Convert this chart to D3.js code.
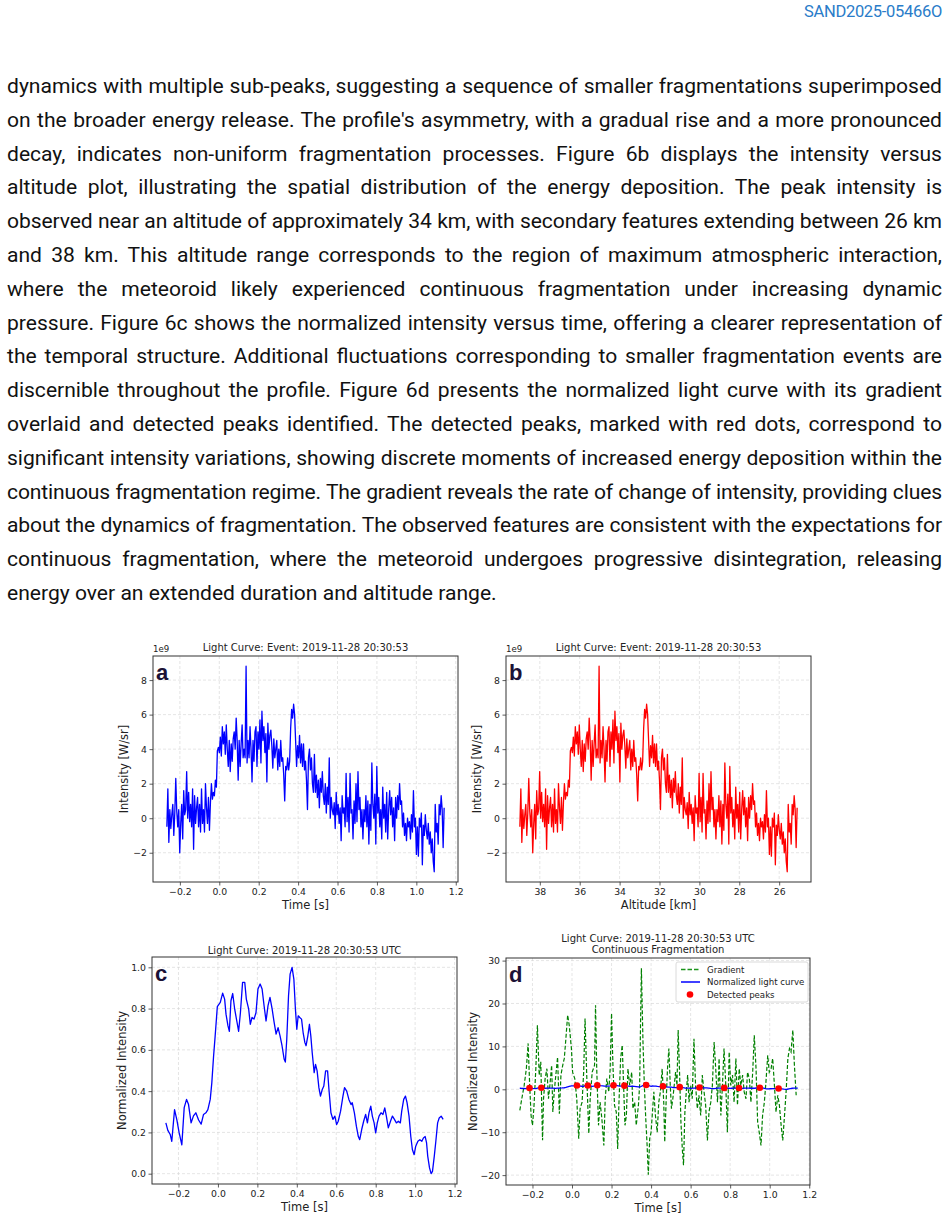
<!DOCTYPE html>
<meta charset="utf-8">
<head>
<style>
  body { margin: 0; background: #fff; }
  #page { position: relative; width: 948px; height: 1220px; overflow: hidden; background: #fff; }
  .docid { position: absolute; right: 6px; top: 2px; font: 16.5px Roboto, sans-serif; color: #2a7cc9; letter-spacing: -0.3px; }
  #para { position: absolute; left: 7px; top: 69px; width: 935px; font-family: Roboto, sans-serif; color: #111; }
  .ln { height: 33.8px; line-height: 33.8px; text-align: justify; }
  #fig { position: absolute; left: 0; top: 0; }
  .tick text { font-family: "DejaVu Sans", sans-serif; font-size: 9.3px; fill: #222; }
  .tick line { stroke: #333; stroke-width: 0.8; }
  .grid { stroke: #d4d4d4; stroke-width: 0.6; stroke-dasharray: 3,2; }
  .lbl { font-family: "DejaVu Sans", sans-serif; font-size: 11.5px; fill: #222; }
  .ttl { font-family: "DejaVu Sans", sans-serif; font-size: 10px; fill: #222; }
  .small { font-family: "DejaVu Sans", sans-serif; font-size: 8.6px; fill: #222; }
  .tag { font-family: "Liberation Sans", Arial, sans-serif; font-weight: bold; font-size: 22px; fill: #1c1236; }
</style>
</head>
<body>
<div id="page">
  <div class="docid">SAND2025-05466O</div>
  <div id="para"></div>
  <svg id="fig"></svg>
</div>
<script src="https://cdnjs.cloudflare.com/ajax/libs/d3/7.8.5/d3.min.js"></script>
<script>

// ---- text of the page, one entry per printed line ----
var paraLines = [
  "dynamics with multiple sub-peaks, suggesting a sequence of smaller fragmentations superimposed",
  "on the broader energy release. The profile's asymmetry, with a gradual rise and a more pronounced",
  "decay, indicates non-uniform fragmentation processes. Figure 6b displays the intensity versus",
  "altitude plot, illustrating the spatial distribution of the energy deposition. The peak intensity is",
  "observed near an altitude of approximately 34 km, with secondary features extending between 26 km",
  "and 38 km. This altitude range corresponds to the region of maximum atmospheric interaction,",
  "where the meteoroid likely experienced continuous fragmentation under increasing dynamic",
  "pressure. Figure 6c shows the normalized intensity versus time, offering a clearer representation of",
  "the temporal structure. Additional fluctuations corresponding to smaller fragmentation events are",
  "discernible throughout the profile. Figure 6d presents the normalized light curve with its gradient",
  "overlaid and detected peaks identified. The detected peaks, marked with red dots, correspond to",
  "significant intensity variations, showing discrete moments of increased energy deposition within the",
  "continuous fragmentation regime. The gradient reveals the rate of change of intensity, providing clues",
  "about the dynamics of fragmentation. The observed features are consistent with the expectations for",
  "continuous fragmentation, where the meteoroid undergoes progressive disintegration, releasing",
  "energy over an extended duration and altitude range."
];

// ---- raw light curve (1e9 W/sr), evenly sampled between these times ----
var sampleTimeRange = [-0.266, 1.141];
var intensity = [
  -0.5, 1.7, -1.4, 0.5, -0.6, 0.2, 0.8, -1.0, 0.3, 2.3, 0.4, -0.5, 0.5, -2.0, -0.3, 0.8, -1.2, 1.6, 0.2, 0.5,
  2.7, 0.0, 1.5, -0.2, 0.8, -0.5, 1.7, -1.8, 1.3, -0.3, 0.6, 1.2, -0.5, 0.8, -0.8, 1.7, -0.3, 0.5, -0.8, 2.0,
  0.6, -0.3, 1.2, -0.7, 0.9, 2.0, 1.1, 1.5, 1.3, 2.2, 1.8, 3.9, 4.1, 3.8, 4.7, 3.6, 5.3, 4.3, 5.0, 3.7,
  5.4, 4.0, 3.0, 4.5, 2.7, 4.3, 3.3, 4.6, 5.0, 4.0, 5.8, 4.5, 2.2, 4.5, 3.0, 4.3, 5.4, 3.5, 4.0, 3.5,
  8.8, 3.2, 4.5, 3.5, 5.3, 4.0, 2.1, 4.5, 3.3, 5.0, 5.3, 3.0, 5.0, 4.0, 5.7, 3.2, 6.2, 4.5, 5.3, 3.8,
  4.9, 2.1, 5.5, 4.0, 4.8, 5.1, 4.2, 2.9, 4.6, 3.5, 4.0, 4.5, 2.8, 4.0, 3.0, 4.5, 3.3, 3.5, 2.5, 1.0,
  3.0, 2.8, 3.5, 2.8, 3.3, 5.2, 6.3, 5.8, 6.6, 6.0, 4.5, 3.0, 4.2, 3.5, 4.8, 3.2, 4.3, 3.0, 4.3, 2.8,
  3.3, 2.2, 0.5, 3.5, 4.0, 2.8, 3.5, 2.0, 1.5, 3.7, 1.5, 2.5, 1.2, 2.2, 0.6, 2.3, 1.5, 2.7, 1.3, 0.8,
  2.0, 0.3, 1.8, 0.8, 3.5, 0.0, 1.2, 0.5, 0.2, 0.9, -0.6, 1.5, 0.2, 0.8, -0.3, 0.6, -1.3, 1.3, 0.3, 0.6,
  -0.5, 2.6, -0.2, 1.2, -0.8, 2.6, 0.3, 0.5, -1.2, 1.0, -0.3, 2.0, -0.2, 2.7, 0.5, 1.2, -0.5, 0.5, -1.2, 0.5,
  -0.2, 1.3, -0.5, 1.0, -1.5, 0.8, -0.7, 3.2, 0.8, 0.0, 1.4, -1.5, 3.0, 0.3, 1.2, -0.5, 0.5, -1.2, 1.8, 0.0,
  0.8, -0.8, 1.5, -1.2, 0.5, 1.6, 0.2, 1.2, -0.5, 0.6, -1.3, 1.2, 0.0, 1.3, 0.5, 2.0, 0.8, 1.0, -0.5, 0.3,
  -1.0, -0.3, -1.3, 0.0, -0.5, -0.2, -1.2, 0.2, -0.8, 1.6, -0.5, 0.0, -2.1, -0.5, -2.2, 0.0, -0.5, 0.3, -2.7, -0.4,
  -1.0, 0.2, -0.7, -1.2, -0.3, -1.5, -0.8, -2.0, -1.2, -2.5, -3.1, 0.8, -0.8, -0.3, -1.5, 0.8, 0.2, 1.3, 0.5, -1.7,
  0.6
];
// altitude at first and last sample (km)
var altitudeRange = [39.0, 25.1];

// ---- normalized (smoothed) light curve ----
var normTime = [
  -0.264,-0.254,-0.242,-0.234,-0.220,-0.208,-0.197,-0.183,-0.171,-0.159,
  -0.149,-0.136,-0.124,-0.112,-0.098,-0.085,-0.073,-0.061,-0.051,-0.039,
  -0.031,-0.022,-0.014,-0.003,0.012,0.024,0.034,0.041,0.051,0.058,
  0.066,0.075,0.085,0.097,0.105,0.114,0.125,0.136,0.144,0.156,
  0.164,0.173,0.183,0.193,0.203,0.214,0.224,0.234,0.244,0.254,
  0.264,0.275,0.285,0.295,0.305,0.315,0.325,0.336,0.342,0.349,
  0.358,0.366,0.376,0.385,0.393,0.400,0.407,0.415,0.424,0.432,
  0.441,0.447,0.456,0.464,0.471,0.478,0.488,0.495,0.503,0.512,
  0.520,0.529,0.537,0.546,0.556,0.563,0.573,0.583,0.593,0.602,
  0.610,0.622,0.634,0.642,0.653,0.664,0.675,0.681,0.692,0.702,
  0.712,0.719,0.729,0.739,0.749,0.758,0.766,0.775,0.783,0.792,
  0.800,0.808,0.817,0.827,0.837,0.846,0.854,0.864,0.875,0.885,
  0.895,0.905,0.915,0.925,0.932,0.942,0.951,0.959,0.969,0.978,
  0.986,0.995,1.003,1.014,1.024,1.034,1.042,1.051,1.058,1.064,
  1.073,1.081,1.088,1.097,1.105,1.114,1.122,1.132,1.142
];
var normValue = [
  0.246,0.21,0.19,0.157,0.31,0.26,0.20,0.14,0.32,0.36,
  0.335,0.246,0.28,0.295,0.26,0.24,0.287,0.295,0.31,0.36,
  0.44,0.57,0.668,0.81,0.83,0.875,0.846,0.773,0.716,0.69,
  0.838,0.873,0.797,0.733,0.69,0.78,0.927,0.927,0.846,0.797,
  0.724,0.757,0.749,0.78,0.895,0.919,0.895,0.814,0.74,0.814,
  0.854,0.797,0.733,0.676,0.708,0.668,0.62,0.554,0.541,0.65,
  0.862,0.967,1.0,0.943,0.797,0.70,0.765,0.757,0.749,0.684,
  0.635,0.62,0.668,0.724,0.668,0.587,0.49,0.53,0.498,0.417,
  0.376,0.408,0.425,0.498,0.498,0.408,0.295,0.263,0.279,0.238,
  0.254,0.303,0.376,0.417,0.40,0.36,0.335,0.344,0.295,0.23,
  0.18,0.165,0.214,0.254,0.287,0.246,0.295,0.327,0.279,0.246,
  0.198,0.246,0.279,0.295,0.287,0.319,0.279,0.222,0.254,0.279,
  0.263,0.246,0.254,0.246,0.303,0.36,0.376,0.344,0.279,0.18,
  0.117,0.092,0.133,0.157,0.165,0.157,0.173,0.18,0.149,0.084,
  0.028,0.0,0.011,0.084,0.157,0.246,0.27,0.279,0.263
];

// ---- gradient of the normalized curve ----
var gradTime = [
  -0.264,-0.254,-0.242,-0.231,-0.222,-0.214,-0.207,-0.200,-0.193,-0.183,
  -0.175,-0.166,-0.158,-0.149,-0.144,-0.136,-0.127,-0.119,-0.112,-0.103,
  -0.097,-0.090,-0.081,-0.073,-0.064,-0.056,-0.047,-0.039,-0.031,-0.022,
  -0.014,-0.003,0.003,0.014,0.024,0.034,0.041,0.051,0.059,0.066,
  0.075,0.085,0.092,0.102,0.114,0.119,0.125,0.134,0.142,0.151,
  0.161,0.168,0.176,0.186,0.193,0.200,0.207,0.215,0.224,0.231,
  0.237,0.246,0.254,0.261,0.268,0.275,0.283,0.292,0.302,0.308,
  0.317,0.325,0.336,0.342,0.351,0.359,0.366,0.373,0.380,0.386,
  0.393,0.400,0.407,0.414,
  0.422,0.431,0.439,0.447,0.456,0.464,0.469,0.476,0.483,0.490,
  0.497,0.503,0.510,0.517,0.524,0.531,0.537,0.544,0.551,0.558,
  0.564,0.571,0.578,0.585,0.592,0.600,0.608,0.617,0.625,0.634,
  0.642,0.651,0.659,0.668,0.676,0.685,0.693,0.702,0.710,0.719,
  0.727,0.736,0.744,0.753,0.761,0.769,0.778,0.786,0.795,0.803,
  0.812,0.820,0.829,0.837,0.846,0.854,0.863,0.871,0.880,0.888,
  0.897,0.905,0.914,0.922,0.931,0.939,0.947,0.956,0.964,0.973,
  0.981,0.990,0.998,1.007,1.015,1.024,1.032,1.041,1.049,1.058,
  1.066,1.075,1.083,1.092,1.100,1.108,1.117,1.125,1.134
];
var gradValue = [
  -4.9,-2.2,0.9,4.8,10.7,0.9,-6.1,-8.4,-4.5,4.8,
  14.9,3.3,6.4,-11.9,-2.2,2.5,4.8,-2.2,0.9,5.6,
  -5.3,-0.6,3.7,7.5,-5.7,3.3,5.6,7.2,11.8,17.3,
  14.9,9.5,4.0,2.5,-2.2,-11.5,-4.5,-3.0,4.0,16.5,
  2.5,-10.3,-2.2,4.0,5.6,19.6,4.8,-8.4,-3.0,-6.8,
  -13.1,-2.2,2.5,-0.6,4.8,17.7,5.6,-3.7,-5.3,-13.9,
  -3.7,7.2,10.3,0.9,-8.4,-6.1,4.8,0.9,4.0,-4.5,
  -3.0,-8.4,-3.7,0.9,28.2,11.0,0.9,-6.8,-13.1,-19.9,
  -11.5,-10.0,-5.3,-0.6,
  -6.1,-10.0,-3.0,-0.6,4.8,-3.0,-12.3,-3.0,4.8,9.5,
  0.9,-4.5,-2.2,0.9,4.0,0.9,13.8,4.0,-7.6,-13.9,
  -17.7,-5.3,-0.6,3.3,-3.0,0.9,-2.2,11.8,0.9,-4.5,
  -1.4,-6.1,3.3,-0.6,-3.7,-11.9,-5.3,-3.0,0.9,11.0,
  4.8,-3.0,7.2,-6.1,0.9,9.5,0.9,-10.0,8.7,0.9,
  3.3,-3.0,7.2,-3.7,4.8,0.9,3.3,-0.6,-2.2,4.0,
  2.5,-3.0,4.0,12.6,4.8,-7.6,-10.0,-13.1,-6.1,-3.0,
  1.7,7.9,4.0,4.8,7.2,0.9,-5.3,-1.4,-3.7,-8.4,
  -11.9,-6.1,-0.6,7.2,9.5,8.7,13.8,5.6,-1.4
];

// ---- detected peaks ----
var peakTime  = [-0.215, -0.155, 0.025, 0.080, 0.128, 0.210, 0.265, 0.375, 0.460, 0.545, 0.645, 0.770, 0.845, 0.950, 1.045];
var peakValue = [0.31, 0.36, 0.875, 0.873, 0.927, 0.919, 0.854, 1.0, 0.724, 0.498, 0.417, 0.327, 0.319, 0.376, 0.18];

// ---- ticks ----
var timeTicks = [-0.2, 0.0, 0.2, 0.4, 0.6, 0.8, 1.0, 1.2];
var altTicks = [38, 36, 34, 32, 30, 28, 26];
var intensityTicks = [-2, 0, 2, 4, 6, 8];
var normTicks = [0.0, 0.2, 0.4, 0.6, 0.8, 1.0];
var gradTicks = [-20, -10, 0, 10, 20, 30];

// ---------------- paragraph ----------------
var W = 935;
var ctx = document.createElement("canvas").getContext("2d");
ctx.font = "20px Roboto";
var fs = 20 * 490 / ctx.measureText(paraLines[paraLines.length - 1]).width;
ctx.font = fs + "px Roboto";
var para = d3.select("#para");
paraLines.forEach(function(t, i) {
  var w = ctx.measureText(t).width;
  var div = para.append("div").attr("class", "ln").style("font-size", fs + "px").text(t);
  if (i < paraLines.length - 1) div.style("text-align-last", "justify");
  if (w > W - 3) div.style("letter-spacing", ((W - 3 - w) / t.length) + "px");
});

// ---------------- charts ----------------
var svg = d3.select("#fig").attr("width", 948).attr("height", 1220);

function pad(ext) {
  var m = (ext[1] - ext[0]) * 0.05;
  return [ext[0] - m, ext[1] + m];
}

function panel(p) {
  var x = d3.scaleLinear().domain(p.xDomain).range([p.left, p.right]);
  var y = d3.scaleLinear().domain(p.yDomain).range([p.bottom, p.top]);
  var g = svg.append("g");
  g.append("g").selectAll("line").data(p.xTicks).join("line").attr("class", "grid")
    .attr("x1", function(d) { return x(d); }).attr("x2", function(d) { return x(d); })
    .attr("y1", p.top).attr("y2", p.bottom);
  g.append("g").selectAll("line").data(p.yTicks).join("line").attr("class", "grid")
    .attr("y1", function(d) { return y(d); }).attr("y2", function(d) { return y(d); })
    .attr("x1", p.left).attr("x2", p.right);
  var data = g.append("g");
  g.append("rect").attr("x", p.left).attr("y", p.top)
    .attr("width", p.right - p.left).attr("height", p.bottom - p.top)
    .attr("fill", "none").attr("stroke", "#333").attr("stroke-width", 1);
  var xa = g.append("g").attr("transform", "translate(0," + p.bottom + ")")
    .call(d3.axisBottom(x).tickValues(p.xTicks).tickFormat(p.xFmt).tickSize(3.5).tickPadding(2.5));
  xa.select(".domain").remove();
  var ya = g.append("g").attr("transform", "translate(" + p.left + ",0)")
    .call(d3.axisLeft(y).tickValues(p.yTicks).tickFormat(p.yFmt).tickSize(3.5).tickPadding(2.5));
  ya.select(".domain").remove();
  g.append("text").attr("class", "lbl").attr("text-anchor", "middle")
    .attr("x", (p.left + p.right) / 2).attr("y", p.bottom + 27).text(p.xLabel);
  g.append("text").attr("class", "lbl").attr("text-anchor", "middle")
    .attr("transform", "translate(" + p.yLabelX + "," + (p.top + p.bottom) / 2 + ") rotate(-90)")
    .attr("dy", "0.35em").text(p.yLabel);
  p.title.forEach(function(t, i) {
    g.append("text").attr("class", "ttl").attr("text-anchor", "middle")
      .attr("x", (p.left + p.right) / 2).attr("y", p.titleY + i * 11.5).text(t);
  });
  g.append("text").attr("class", "tag").attr("x", p.left + 3).attr("y", p.top + 24).text(p.tag);
  return { x: x, y: y, g: data };
}

var n = intensity.length;
var sampleTime = d3.scaleLinear().domain([0, n - 1]).range(sampleTimeRange);
var sampleAlt = d3.scaleLinear().domain([0, n - 1]).range(altitudeRange);
var f1 = d3.format(".1f"), f0 = d3.format("d");

var tDomain = pad(d3.extent(intensity, function(d, i) { return sampleTime(i); }));
var iDomain = pad(d3.extent(intensity));

// a: intensity vs time
var A = panel({ left: 153, right: 458, top: 656, bottom: 882,
  xDomain: tDomain, yDomain: iDomain, xTicks: timeTicks, yTicks: intensityTicks,
  xFmt: f1, yFmt: f0, xLabel: "Time [s]", yLabel: "Intensity [W/sr]", yLabelX: 124,
  title: ["Light Curve: Event: 2019-11-28 20:30:53"], titleY: 650.5, tag: "a" });
A.g.append("path").datum(intensity).attr("fill", "none").attr("stroke", "#0000ff").attr("stroke-width", 1.3)
  .attr("stroke-linejoin", "round")
  .attr("d", d3.line().x(function(d, i) { return A.x(sampleTime(i)); }).y(function(d) { return A.y(d); }));
svg.append("text").attr("class", "small").attr("x", 153).attr("y", 652).text("1e9");

// b: intensity vs altitude
var altExt = d3.extent(intensity, function(d, i) { return sampleAlt(i); });
var altDomain = pad(altExt).reverse();
var B = panel({ left: 506, right: 811, top: 656, bottom: 882,
  xDomain: altDomain, yDomain: iDomain, xTicks: altTicks, yTicks: intensityTicks,
  xFmt: f0, yFmt: f0, xLabel: "Altitude [km]", yLabel: "Intensity [W/sr]", yLabelX: 477,
  title: ["Light Curve: Event: 2019-11-28 20:30:53"], titleY: 650.5, tag: "b" });
B.g.append("path").datum(intensity).attr("fill", "none").attr("stroke", "#ff0000").attr("stroke-width", 1.3)
  .attr("stroke-linejoin", "round")
  .attr("d", d3.line().x(function(d, i) { return B.x(sampleAlt(i)); }).y(function(d) { return B.y(d); }));
svg.append("text").attr("class", "small").attr("x", 506).attr("y", 652).text("1e9");

// c: normalized intensity
var C = panel({ left: 152, right: 457, top: 957, bottom: 1184,
  xDomain: pad(d3.extent(normTime)), yDomain: pad(d3.extent(normValue)), xTicks: timeTicks, yTicks: normTicks,
  xFmt: f1, yFmt: f1, xLabel: "Time [s]", yLabel: "Normalized Intensity", yLabelX: 122,
  title: ["Light Curve: 2019-11-28 20:30:53 UTC"], titleY: 953.5, tag: "c" });
C.g.append("path").datum(normValue).attr("fill", "none").attr("stroke", "#0000ff").attr("stroke-width", 1.3)
  .attr("stroke-linejoin", "round")
  .attr("d", d3.line().x(function(d, i) { return C.x(normTime[i]); }).y(function(d) { return C.y(d); }));

// d: gradient + normalized curve + peaks
var D = panel({ left: 506, right: 810, top: 958, bottom: 1185,
  xDomain: pad(d3.extent(gradTime)), yDomain: pad(d3.extent(gradValue)), xTicks: timeTicks, yTicks: gradTicks,
  xFmt: f1, yFmt: f0, xLabel: "Time [s]", yLabel: "Normalized Intensity", yLabelX: 473,
  title: ["Light Curve: 2019-11-28 20:30:53 UTC", "Continuous Fragmentation"], titleY: 941.5, tag: "d" });
D.g.append("path").datum(gradValue).attr("fill", "none").attr("stroke", "#008000").attr("stroke-width", 1.2)
  .attr("stroke-dasharray", "4,2")
  .attr("d", d3.line().x(function(d, i) { return D.x(gradTime[i]); }).y(function(d) { return D.y(d); }));
D.g.append("path").datum(normValue).attr("fill", "none").attr("stroke", "#0000ff").attr("stroke-width", 1.3)
  .attr("d", d3.line().x(function(d, i) { return D.x(normTime[i]); }).y(function(d) { return D.y(d); }));
D.g.selectAll("circle").data(peakValue).join("circle")
  .attr("cx", function(d, i) { return D.x(peakTime[i]); }).attr("cy", function(d) { return D.y(d); })
  .attr("r", 3.3).attr("fill", "#ff0000");

// legend for d
var lg = svg.append("g").attr("transform", "translate(676,962)");
lg.append("rect").attr("width", 132).attr("height", 40).attr("rx", 2)
  .attr("fill", "#fff").attr("fill-opacity", 0.85).attr("stroke", "#d0d0d0").attr("stroke-width", 0.8);
var items = [
  { label: "Gradient", kind: "dash", color: "#1a941a" },
  { label: "Normalized light curve", kind: "line", color: "#0000ff" },
  { label: "Detected peaks", kind: "dot", color: "#ff0000" }
];
items.forEach(function(it, i) {
  var yy = 7.5 + i * 12.5;
  if (it.kind === "dot") {
    lg.append("circle").attr("cx", 14).attr("cy", yy).attr("r", 3.3).attr("fill", it.color);
  } else {
    lg.append("line").attr("x1", 5).attr("x2", 24).attr("y1", yy).attr("y2", yy)
      .attr("stroke", it.color).attr("stroke-width", 1.5)
      .attr("stroke-dasharray", it.kind === "dash" ? "4.5,2" : null);
  }
  lg.append("text").attr("class", "small").attr("x", 31).attr("y", yy).attr("dy", "0.35em").text(it.label);
});

</script>
</body>
